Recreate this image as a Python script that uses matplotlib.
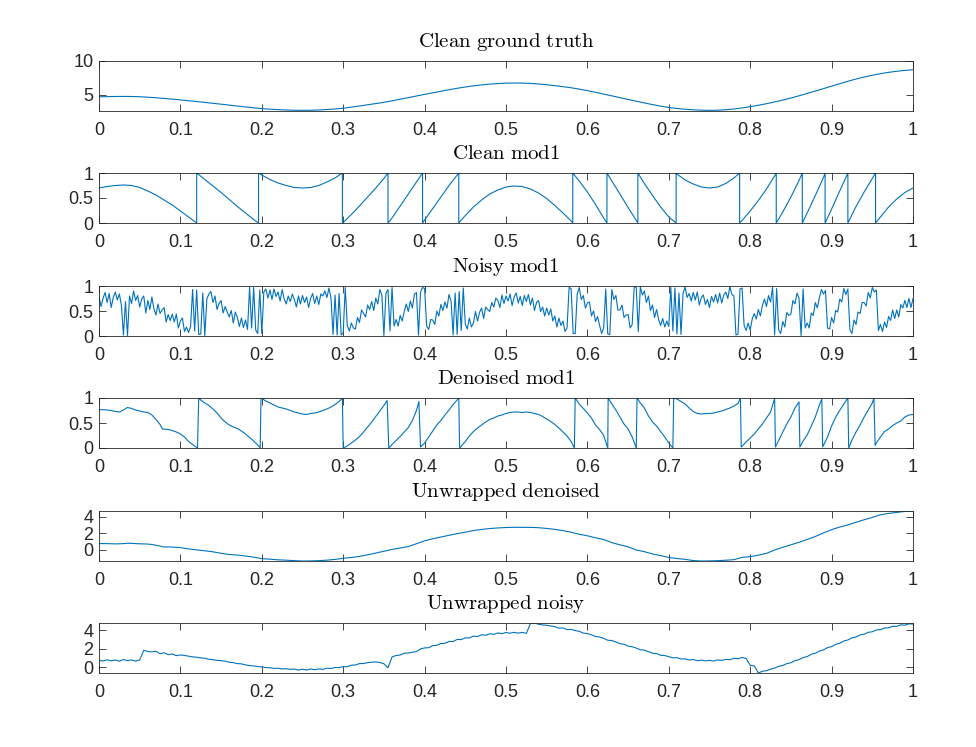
import numpy as np
import matplotlib
matplotlib.use("Agg")
import matplotlib.pyplot as plt

plt.rcParams['mathtext.fontset'] = 'cm'
plt.rcParams['font.family'] = ['Liberation Sans', 'DejaVu Sans']

# --- data ---

# clean ground truth, one value every 0.01
truth_x = np.linspace(0, 1, 101)
truth_y = [4.70, 4.73, 4.75, 4.76, 4.75, 4.71, 4.64, 4.56, 4.46, 4.36,
           4.24, 4.12, 4.00, 3.87, 3.74, 3.61, 3.47, 3.33, 3.20, 3.07,
           2.96, 2.87, 2.80, 2.75, 2.71, 2.70, 2.71, 2.75, 2.82, 2.90,
           3.01, 3.17, 3.34, 3.52, 3.70, 3.89, 4.10, 4.34, 4.58, 4.82,
           5.06, 5.29, 5.52, 5.75, 5.96, 6.15, 6.32, 6.46, 6.58, 6.66,
           6.72, 6.74, 6.73, 6.68, 6.60, 6.49, 6.35, 6.20, 6.04, 5.84,
           5.62, 5.37, 5.10, 4.84, 4.58, 4.31, 4.05, 3.79, 3.55, 3.32,
           3.12, 2.98, 2.86, 2.78, 2.72, 2.70, 2.72, 2.79, 2.90, 3.05,
           3.24, 3.45, 3.68, 3.94, 4.22, 4.52, 4.85, 5.20, 5.55, 5.91,
           6.28, 6.64, 7.00, 7.33, 7.62, 7.89, 8.12, 8.32, 8.48, 8.61,
           8.70]

# clean mod1 (wrap points listed twice: bottom and top)
mod_x = [0.00, 0.01, 0.02, 0.03, 0.04, 0.05, 0.06, 0.07, 0.08, 0.09, 0.10, 0.11, 0.12,
         0.12, 0.13, 0.14, 0.15, 0.16, 0.17, 0.18, 0.19, 0.196,
         0.196, 0.20, 0.21, 0.22, 0.23, 0.24, 0.25, 0.26, 0.27, 0.28, 0.29, 0.299,
         0.299, 0.30, 0.31, 0.32, 0.33, 0.34, 0.35, 0.355,
         0.355, 0.36, 0.37, 0.38, 0.39, 0.3975,
         0.3975, 0.40, 0.41, 0.42, 0.43, 0.44, 0.442,
         0.442, 0.45, 0.46, 0.47, 0.48, 0.49, 0.50, 0.51, 0.52, 0.53, 0.54, 0.55, 0.56, 0.57, 0.58, 0.582,
         0.582, 0.59, 0.60, 0.61, 0.62, 0.624,
         0.624, 0.63, 0.64, 0.65, 0.66, 0.662,
         0.662, 0.67, 0.68, 0.69, 0.70, 0.709,
         0.709, 0.71, 0.72, 0.73, 0.74, 0.75, 0.76, 0.77, 0.78, 0.787,
         0.787, 0.79, 0.80, 0.81, 0.82, 0.83, 0.832,
         0.832, 0.84, 0.85, 0.86, 0.864,
         0.864, 0.87, 0.88, 0.89, 0.892,
         0.892, 0.90, 0.91, 0.92,
         0.92, 0.93, 0.94, 0.95, 0.954,
         0.954, 0.96, 0.97, 0.98, 0.99, 1.00]
mod_y = [0.70, 0.73, 0.75, 0.76, 0.75, 0.71, 0.64, 0.56, 0.46, 0.36, 0.24, 0.12, 0.0,
         1.0, 0.87, 0.74, 0.61, 0.47, 0.33, 0.20, 0.07, 0.0,
         1.0, 0.96, 0.87, 0.80, 0.75, 0.71, 0.70, 0.71, 0.75, 0.82, 0.90, 1.0,
         0.0, 0.01, 0.17, 0.34, 0.52, 0.70, 0.89, 1.0,
         0.0, 0.10, 0.34, 0.58, 0.82, 1.0,
         0.0, 0.06, 0.29, 0.52, 0.75, 0.96, 1.0,
         0.0, 0.15, 0.32, 0.46, 0.58, 0.66, 0.72, 0.74, 0.73, 0.68, 0.60, 0.49, 0.35, 0.20, 0.04, 0.0,
         1.0, 0.84, 0.62, 0.37, 0.10, 0.0,
         1.0, 0.84, 0.58, 0.31, 0.05, 0.0,
         1.0, 0.79, 0.55, 0.32, 0.12, 0.0,
         1.0, 0.98, 0.86, 0.78, 0.72, 0.70, 0.72, 0.79, 0.90, 1.0,
         0.0, 0.05, 0.24, 0.45, 0.68, 0.94, 1.0,
         0.0, 0.22, 0.52, 0.85, 1.0,
         0.0, 0.20, 0.55, 0.91, 1.0,
         0.0, 0.28, 0.64, 1.0,
         0.0, 0.33, 0.62, 0.89, 1.0,
         0.0, 0.12, 0.32, 0.48, 0.61, 0.70]

# noisy mod1, one value every 0.0025 (four per 0.01 step)
noisy_mod_x = np.linspace(0, 1, 401)
noisy_mod = [.79, .59, .76, .87, .67, .85, .57, .77, .88, .72, .84, .62,
             .02, .69, .01, .80, .65, .90, .71, .81, .58, .74, .80, .46,
             .71, .53, .78, .54, .42, .64, .45, .52, .57, .28, .43, .31,
             .44, .28, .44, .16, .30, .36, .09, .18, .07, .19, .93, .10,
             .92, .03, .04, .86, .01, .74, .84, .89, .67, .80, .53, .65,
             .71, .46, .59, .48, .38, .51, .26, .48, .37, .19, .36, .17,
             .32, .13, .98, .16, .97, .12, .05, .92, .05, .88, .94, .76,
             .92, .73, .94, .79, .88, .70, .93, .74, .64, .80, .69, .84,
             .73, .58, .80, .64, .81, .67, .78, .57, .75, .85, .65, .80,
             .63, .84, .80, .90, .77, .96, .76, .03, .82, .02, .85, .02,
             .07, .97, .21, .10, .26, .16, .14, .37, .27, .52, .45, .38,
             .62, .53, .69, .51, .76, .64, .93, .82, .01, .85, .93, .10,
             .97, .20, .33, .20, .41, .30, .49, .64, .49, .70, .56, .84,
             .87, .02, .88, .97, .95, .20, .13, .33, .32, .23, .50, .40,
             .63, .51, .68, .56, .83, .70, .02, .86, .03, .89, .11, .96,
             .24, .14, .36, .18, .26, .49, .30, .47, .56, .35, .58, .53,
             .49, .67, .58, .76, .71, .57, .82, .65, .80, .70, .84, .61,
             .78, .86, .66, .79, .61, .81, .69, .83, .62, .76, .51, .67,
             .71, .49, .58, .40, .56, .42, .54, .30, .40, .18, .36, .21,
             .30, .09, .16, .97, .95, .05, .05, .84, .97, .73, .81, .56,
             .66, .68, .40, .50, .29, .39, .21, .05, .16, .94, .04, .03,
             .93, .73, .81, .52, .52, .62, .37, .42, .43, .16, .23, .98,
             .98, .09, .98, .82, .90, .67, .80, .51, .62, .37, .53, .33,
             .21, .35, .18, .30, .19, .97, .10, .96, .04, .86, .03, .85,
             .98, .77, .85, .70, .87, .72, .88, .62, .77, .82, .63, .73,
             .57, .79, .68, .83, .66, .86, .66, .82, .88, .75, .99, .83,
             .80, .02, .04, .94, .96, .21, .11, .26, .12, .34, .45, .34,
             .53, .40, .61, .74, .59, .81, .68, .98, .02, .95, .12, .05,
             .29, .18, .47, .41, .44, .71, .64, .86, .75, .01, .94, .16,
             .26, .16, .46, .41, .67, .56, .77, .93, .84, .91, .16, .14,
             .37, .26, .51, .48, .74, .68, .95, .83, .94, .12, .05, .32,
             .23, .48, .45, .67, .67, .60, .87, .76, .97, .88, .92, .11,
             .23, .09, .28, .17, .39, .31, .52, .35, .52, .38, .63, .56,
             .71, .57, .75, .57, .75]

# unwrapped noisy, one value every 0.005
noisy_x = np.linspace(0, 1, 201)
noisy_unwrap = [.76, .68, .81, .70, .79, .66, .84, .72, .80, .67,
                .78, 1.84, 1.72, 1.66, 1.74, 1.47, 1.58, 1.36, 1.45, 1.26,
                1.34, 1.28, 1.20, 1.13, 1.09, 1.02, .98, .86, .82, .75,
                .72, .66, .55, .50, .40, .37, .26, .18, .15, .08,
                .04, -.03, -.05, -.12, -.10, -.18, -.16, -.22, -.20, -.30,
                -.21, -.29, -.18, -.26, -.17, -.23, -.10, -.13, -.02, -.03,
                .06, .07, .22, .25, .40, .41, .50, .55, .58, .52,
                .38, -.05, 1.12, 1.28, 1.33, 1.52, 1.55, 1.63, 1.70, 1.99,
                2.10, 2.12, 2.35, 2.38, 2.58, 2.60, 2.80, 2.79, 3.02, 3.00,
                3.19, 3.18, 3.38, 3.33, 3.52, 3.47, 3.63, 3.57, 3.72, 3.64,
                3.77, 3.69, 3.79, 3.70, 3.78, 3.67, 4.74, 4.80, 4.66, 4.59,
                4.55, 4.47, 4.41, 4.24, 4.27, 4.08, 4.11, 3.98, 3.90, 3.70,
                3.66, 3.52, 3.33, 3.29, 3.13, 2.93, 2.90, 2.74, 2.55, 2.50,
                2.29, 2.23, 2.08, 1.90, 1.86, 1.70, 1.52, 1.49, 1.30, 1.27,
                1.15, 1.03, 1.04, .90, .91, .79, .84, .71, .77, .69,
                .75, .68, .80, .74, .86, .82, .97, .93, 1.07, .95,
                .22, .15, -.62, -.44, -.36, -.20, -.08, .10, .20, .40,
                .49, .72, .83, 1.05, 1.16, 1.41, 1.52, 1.76, 1.88, 2.13,
                2.24, 2.49, 2.60, 2.85, 2.96, 3.20, 3.29, 3.51, 3.58, 3.79,
                3.85, 4.05, 4.08, 4.25, 4.28, 4.45, 4.44, 4.60, 4.56, 4.70,
                4.68]

# denoised mod1
den_x = [0.000, 0.010, 0.015, 0.020, 0.025, 0.030, 0.035, 0.040, 0.045, 0.050,
         0.055, 0.060, 0.065, 0.070, 0.075, 0.078, 0.085, 0.090, 0.095, 0.100,
         0.105, 0.110, 0.115, 0.121,
         0.1225, 0.125, 0.130, 0.135, 0.140, 0.145, 0.150, 0.155, 0.160, 0.165,
         0.170, 0.175, 0.180, 0.185, 0.190, 0.195, 0.198,
         0.199, 0.205, 0.210, 0.215, 0.220, 0.225, 0.230, 0.235, 0.240, 0.245,
         0.250, 0.255, 0.260, 0.265, 0.270, 0.275, 0.280, 0.285, 0.290, 0.295, 0.299,
         0.300, 0.305, 0.310, 0.315, 0.320, 0.325, 0.330, 0.335, 0.340, 0.345,
         0.350, 0.354,
         0.356, 0.360, 0.365, 0.370, 0.375, 0.380, 0.385, 0.390, 0.393,
         0.395, 0.400, 0.405, 0.410, 0.415, 0.420, 0.425, 0.430, 0.435, 0.440, 0.442,
         0.443, 0.450, 0.455, 0.460, 0.465, 0.470, 0.475, 0.480, 0.485, 0.490,
         0.495, 0.500, 0.505, 0.510, 0.515, 0.520, 0.525, 0.530, 0.535, 0.540,
         0.545, 0.550, 0.555, 0.560, 0.565, 0.570, 0.575, 0.580, 0.584,
         0.585, 0.590, 0.595, 0.600, 0.605, 0.610, 0.615, 0.620, 0.625,
         0.6255, 0.630, 0.635, 0.640, 0.645, 0.650, 0.655, 0.660,
         0.661, 0.665, 0.670, 0.675, 0.680, 0.685, 0.690, 0.695, 0.700, 0.705,
         0.706, 0.710, 0.715, 0.720, 0.725, 0.730, 0.735, 0.740, 0.745, 0.750,
         0.755, 0.760, 0.765, 0.770, 0.775, 0.780, 0.785, 0.788,
         0.789, 0.795, 0.800, 0.805, 0.810, 0.815, 0.820, 0.825, 0.830,
         0.831, 0.835, 0.840, 0.845, 0.850, 0.855, 0.860,
         0.861, 0.865, 0.870, 0.875, 0.880, 0.885, 0.888,
         0.889, 0.895, 0.900, 0.905, 0.910, 0.915, 0.920,
         0.921, 0.925, 0.930, 0.935, 0.940, 0.945, 0.950, 0.952,
         0.9535, 0.955, 0.960, 0.965, 0.970, 0.975, 0.980, 0.985, 0.990, 0.995, 1.000]
den_y = [0.77, 0.76, 0.75, 0.73, 0.72, 0.76, 0.81, 0.79, 0.76, 0.74,
         0.72, 0.71, 0.66, 0.57, 0.47, 0.38, 0.37, 0.35, 0.32, 0.28,
         0.22, 0.13, 0.07, 0.00,
         1.00, 0.96, 0.90, 0.85, 0.78, 0.70, 0.60, 0.52, 0.46, 0.42,
         0.39, 0.34, 0.28, 0.21, 0.14, 0.06, 0.00,
         1.00, 0.94, 0.90, 0.86, 0.82, 0.80, 0.78, 0.75, 0.72, 0.70,
         0.68, 0.67, 0.69, 0.70, 0.72, 0.75, 0.78, 0.82, 0.87, 0.93, 1.00,
         0.00, 0.04, 0.10, 0.16, 0.23, 0.32, 0.42, 0.52, 0.63, 0.74,
         0.85, 0.95,
         0.00, 0.07, 0.15, 0.23, 0.32, 0.41, 0.55, 0.75, 0.93,
         0.02, 0.10, 0.22, 0.34, 0.46, 0.55, 0.66, 0.76, 0.87, 0.96, 1.00,
         0.00, 0.13, 0.24, 0.33, 0.40, 0.46, 0.52, 0.57, 0.60, 0.64,
         0.66, 0.69, 0.71, 0.72, 0.72, 0.71, 0.72, 0.71, 0.69, 0.67,
         0.63, 0.58, 0.53, 0.47, 0.40, 0.32, 0.24, 0.13, 0.00,
         1.00, 0.88, 0.79, 0.70, 0.60, 0.46, 0.37, 0.25, 0.00,
         1.00, 0.88, 0.76, 0.62, 0.48, 0.38, 0.22, 0.00,
         1.00, 0.90, 0.80, 0.64, 0.52, 0.44, 0.33, 0.22, 0.10, 0.00,
         1.00, 0.98, 0.93, 0.88, 0.80, 0.73, 0.69, 0.68, 0.69, 0.69,
         0.70, 0.72, 0.74, 0.77, 0.80, 0.84, 0.89, 1.00,
         0.02, 0.12, 0.20, 0.28, 0.38, 0.48, 0.60, 0.72, 0.99,
         0.02, 0.15, 0.32, 0.48, 0.62, 0.80, 0.92,
         0.02, 0.14, 0.26, 0.44, 0.62, 0.86, 0.98,
         0.02, 0.22, 0.44, 0.62, 0.75, 0.88, 1.00,
         0.00, 0.16, 0.32, 0.46, 0.62, 0.76, 0.90, 1.00,
         0.05, 0.10, 0.22, 0.33, 0.38, 0.45, 0.50, 0.54, 0.62, 0.66, 0.67]

# unwrapped denoised
unw_x = [0.00, 0.01, 0.02, 0.03, 0.035, 0.04, 0.05, 0.06, 0.065, 0.07, 0.075, 0.078,
         0.09, 0.10, 0.11, 0.12, 0.13, 0.14, 0.15, 0.16, 0.17, 0.18, 0.19, 0.20,
         0.21, 0.22, 0.23, 0.24, 0.25, 0.26, 0.27, 0.28, 0.29, 0.30, 0.31, 0.32,
         0.33, 0.34, 0.35, 0.36, 0.37, 0.38, 0.39, 0.40, 0.41, 0.42, 0.43, 0.44,
         0.45, 0.46, 0.47, 0.48, 0.49, 0.50, 0.51, 0.52, 0.53, 0.54, 0.55, 0.56,
         0.57, 0.58, 0.59, 0.60, 0.61, 0.62, 0.63, 0.64, 0.65, 0.66, 0.67, 0.68,
         0.69, 0.70, 0.71, 0.72, 0.73, 0.74, 0.75, 0.76, 0.77, 0.78, 0.79, 0.80,
         0.81, 0.82, 0.83, 0.84, 0.85, 0.86, 0.87, 0.88, 0.89, 0.90, 0.91, 0.92,
         0.93, 0.94, 0.95, 0.96, 0.97, 0.98, 0.99, 1.00]
unw_y = [0.77, 0.76, 0.73, 0.76, 0.81, 0.79, 0.74, 0.71, 0.66, 0.57, 0.47, 0.38,
         0.35, 0.28, 0.13, 0.01, -0.10, -0.22, -0.40, -0.54, -0.61, -0.72, -0.86, -1.04,
         -1.10, -1.18, -1.22, -1.28, -1.32, -1.31, -1.28, -1.22, -1.13, -1.00, -0.90, -0.77,
         -0.58, -0.37, -0.15, 0.07, 0.23, 0.41, 0.75, 1.10, 1.34, 1.55, 1.76, 1.96,
         2.13, 2.33, 2.46, 2.57, 2.64, 2.69, 2.72, 2.71, 2.71, 2.67, 2.58, 2.47,
         2.32, 2.13, 1.88, 1.70, 1.46, 1.25, 0.88, 0.62, 0.38, 0.00, -0.20, -0.48,
         -0.67, -0.90, -1.02, -1.12, -1.27, -1.32, -1.31, -1.28, -1.23, -1.16, -0.88, -0.80,
         -0.62, -0.40, -0.01, 0.32, 0.62, 0.92, 1.26, 1.62, 2.04, 2.44, 2.75, 3.00,
         3.32, 3.62, 3.90, 4.22, 4.38, 4.50, 4.62, 4.67]

titles = ['Clean ground truth', 'Clean mod1', 'Noisy mod1',
          'Denoised mod1', 'Unwrapped denoised', 'Unwrapped noisy']
x_ticks = [0, 0.1, 0.2, 0.3, 0.4, 0.5, 0.6, 0.7, 0.8, 0.9, 1]
x_labels = ['0', '0.1', '0.2', '0.3', '0.4', '0.5', '0.6', '0.7', '0.8', '0.9', '1']

# --- figure ---
W, H = 976, 747
fig = plt.figure(figsize=(W / 100, H / 100), dpi=100)
fig.patch.set_facecolor('white')

tops = [61, 173, 286, 398, 511, 623]   # axes top edge in pixels
line_c = '#0072BD'
ink = '#262626'

series = [
    (truth_x, truth_y, (2.6, 10), [5, 10], ['5', '10']),
    (mod_x, mod_y, (0, 1), [0, 0.5, 1], ['0', '0.5', '1']),
    (noisy_mod_x, noisy_mod, (0, 1), [0, 0.5, 1], ['0', '0.5', '1']),
    (den_x, den_y, (0, 1), [0, 0.5, 1], ['0', '0.5', '1']),
    (unw_x, unw_y, (min(unw_y), max(unw_y)), [0, 2, 4], ['0', '2', '4']),
    (noisy_x, noisy_unwrap, (min(noisy_unwrap), max(noisy_unwrap)), [0, 2, 4], ['0', '2', '4']),
]

for i, (xs, ys, yl, yt, ytl) in enumerate(series):
    top = tops[i]
    ax = fig.add_axes([99 / W, 1 - (top + 50) / H, 814 / W, 50 / H])
    ax.plot(xs, ys, color=line_c, lw=0.8)
    ax.set_xlim(0, 1)
    ax.set_ylim(*yl)
    ax.set_xticks(x_ticks)
    ax.set_xticklabels(x_labels)
    ax.set_yticks(yt)
    ax.set_yticklabels(ytl)
    ax.tick_params(direction='in', top=True, right=True, length=5, width=0.6,
                   color=ink, labelcolor=ink, labelsize=13)
    ax.tick_params(axis='x', pad=8)
    ax.tick_params(axis='y', pad=4)
    for s in ax.spines.values():
        s.set_color(ink)
        s.set_linewidth(0.6)
    t = titles[i].replace(' ', r'\ ')
    ax.set_title(r'$\mathrm{' + t + '}$', fontsize=15, color='black', pad=10)

fig.savefig('out.png', dpi=100, facecolor='white')
